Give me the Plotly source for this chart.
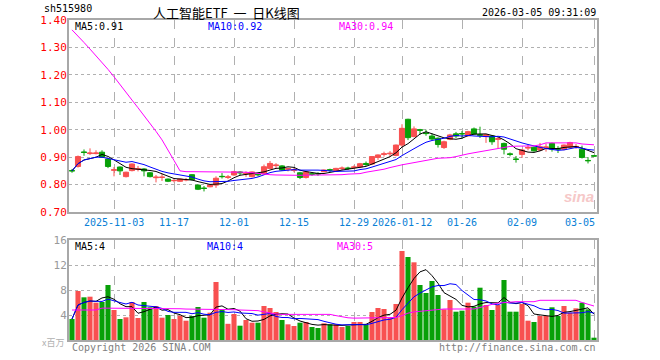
import pandas as pd
import plotly.graph_objects as go

# ---------------- data ----------------
holidays = ["2026-01-01", "2026-01-02", "2026-02-16", "2026-02-17", "2026-02-18",
            "2026-02-19", "2026-02-20", "2026-02-23"]
dates = [d.strftime("%Y-%m-%d") for d in pd.bdate_range("2025-10-23", "2026-03-05")
         if d.strftime("%Y-%m-%d") not in holidays]

opens = [0.851,0.866,0.919,0.913,0.913,0.918,0.893,0.852,0.864,0.829,
         0.851,0.856,0.857,0.843,0.825,0.826,0.820,0.814,0.812,0.817,
         0.836,0.798,0.787,0.792,0.798,0.830,0.826,0.835,0.846,0.839,
         0.829,0.838,0.839,0.859,0.869,0.868,0.856,0.852,0.843,0.826,
         0.839,0.840,0.847,0.854,0.851,0.858,0.860,0.862,0.864,0.877,
         0.875,0.899,0.910,0.912,0.906,0.944,1.038,0.975,1.000,0.988,
         0.977,0.969,0.935,0.965,0.985,0.986,0.978,1.003,0.982,0.975,
         0.977,0.965,0.950,0.912,0.893,0.910,0.933,0.936,0.926,0.935,
         0.950,0.931,0.929,0.936,0.937,0.929,0.888,0.905]
highs = [0.857,0.906,0.928,0.932,0.925,0.925,0.896,0.864,0.866,0.847,
         0.877,0.868,0.860,0.846,0.835,0.840,0.822,0.820,0.822,0.824,
         0.838,0.801,0.795,0.800,0.830,0.842,0.835,0.850,0.849,0.848,
         0.848,0.842,0.873,0.886,0.878,0.871,0.862,0.860,0.846,0.849,
         0.843,0.845,0.855,0.858,0.861,0.866,0.865,0.870,0.879,0.884,
         0.904,0.910,0.920,0.922,0.946,1.020,1.040,1.012,1.003,1.000,
         0.986,0.972,0.960,0.985,0.992,0.995,0.996,1.008,1.011,0.984,
         0.980,0.972,0.953,0.917,0.904,0.930,0.944,0.938,0.952,0.950,
         0.953,0.940,0.946,0.956,0.948,0.942,0.900,0.908]
lows = [0.843,0.862,0.905,0.908,0.910,0.898,0.860,0.830,0.835,0.826,
        0.848,0.848,0.830,0.826,0.808,0.813,0.809,0.808,0.810,0.812,
        0.815,0.780,0.775,0.790,0.788,0.822,0.820,0.832,0.834,0.828,
        0.826,0.830,0.836,0.857,0.860,0.850,0.848,0.845,0.820,0.822,
        0.832,0.832,0.845,0.846,0.849,0.852,0.853,0.857,0.860,0.868,
        0.873,0.890,0.902,0.902,0.903,0.936,0.962,0.972,0.982,0.978,
        0.962,0.935,0.930,0.962,0.970,0.967,0.975,0.982,0.970,0.952,
        0.945,0.932,0.910,0.903,0.880,0.897,0.925,0.920,0.922,0.920,
        0.920,0.915,0.925,0.933,0.930,0.895,0.877,0.902]
closes = [0.850,0.902,0.917,0.915,0.915,0.900,0.866,0.854,0.850,0.845,
          0.875,0.858,0.850,0.829,0.827,0.827,0.812,0.815,0.820,0.818,
          0.818,0.783,0.786,0.798,0.823,0.829,0.828,0.847,0.843,0.841,
          0.846,0.836,0.865,0.877,0.871,0.853,0.858,0.854,0.826,0.846,
          0.838,0.839,0.853,0.853,0.859,0.860,0.859,0.864,0.876,0.873,
          0.902,0.908,0.912,0.914,0.944,1.005,0.971,1.003,0.998,0.986,
          0.966,0.946,0.956,0.981,0.977,0.985,0.993,0.984,0.980,0.982,
          0.956,0.967,0.929,0.910,0.892,0.926,0.935,0.923,0.938,0.937,
          0.929,0.929,0.944,0.953,0.939,0.899,0.887,0.904]
price_ma30 = ([1.364,1.342,1.318,1.294,1.270,1.245,1.220,1.193,1.166,1.138,
               1.108,1.080,1.052,1.023,0.994,0.963,0.928,0.888,0.850]
              + [0.847]*10
              + [0.845,0.843,0.840,0.838,0.836,0.835]
              + [0.834]*9
              + [0.835,0.836,0.838,0.839,0.840]
              + [0.845,0.848,0.852,0.856,0.862,0.868,0.872,0.876,0.880,0.884,
                 0.889,0.893,0.896,0.897,0.898]
              + [0.902,0.908,0.912,0.916,0.920,0.924,0.928,0.932,0.937]
              + [0.939,0.940,0.940,0.941,0.941]
              + [0.945,0.952,0.952,0.952,0.952,0.952,0.952]
              + [0.948,0.946,0.945])
volumes = [3.36,7.84,6.83,6.93,5.97,6.08,8.8,4.8,3.36,3.63,
           6.08,3.52,6.08,5.23,5.44,3.57,4.0,3.36,3.89,3.09,
           3.84,5.28,3.57,4.37,9.28,4.8,2.59,4.16,2.29,3.2,
           2.77,2.77,5.44,5.12,4.48,3.2,2.51,2.24,2.77,2.88,
           2.08,1.92,2.67,2.51,2.51,2.08,2.24,2.88,2.88,2.45,
           4.48,5.12,4.96,3.52,5.76,14.24,13.28,12.43,8.8,7.52,
           9.44,7.2,4.91,6.4,4.53,4.69,5.97,5.33,8.37,5.6,
           4.8,5.6,9.6,4.53,4.53,5.76,3.09,2.88,3.84,3.84,
           5.23,3.84,5.44,4.37,5.07,5.97,4.91,0.37]
vol_ma30 = ([4.8]*5 + [5.1]*12 + [5.0,5.0,4.95]
            + [4.95,4.9,4.9,4.9,4.9,4.85,4.85,4.85,4.8,4.8,4.8]
            + [4.7,4.5,4.3,4.15] + [4.1]*9
            + [3.9,3.7,3.55,3.5,3.5,3.5,3.5,3.5,3.5]
            + [3.5,3.6,3.9,4.3,4.5,4.6,4.7,4.85]
            + [4.96]*7 + [5.2,5.5,5.7,5.9,6.0] + [6.13]*5 + [6.35]*7
            + [6.0,5.7,5.44])

tick_dates = ["2025-11-03","2025-11-17","2025-12-01","2025-12-15","2025-12-29",
              "2026-01-12","2026-01-26","2026-02-09","2026-03-05"]
tick_text = ["2025-11-03","11-17","12-01","12-15","12-29","2026-01-12","01-26","02-09","03-05"]
price_ticks = [0.70,0.80,0.90,1.00,1.10,1.20,1.30,1.40]
vol_ticks = [4,8,12,16]

# ---------------- derived ----------------
cs = pd.Series(closes)
ma5 = cs.rolling(5, min_periods=1).mean()
ma10 = cs.rolling(10, min_periods=1).mean()
vs = pd.Series(volumes)
vma5 = vs.rolling(5, min_periods=1).mean()
vma10 = vs.rolling(10, min_periods=1).mean()

RED = "#f85050"
GREEN = "#08a008"
vol_colors = [RED if c >= o else GREEN for o, c in zip(opens, closes)]

# layout geometry (pixels)
L, R, T, B = 69, 597, 20, 340
W, H = 660, 360
def px(x):
    return (x - L) / (R - L)
def py(y):
    return (B - y) / (B - T)

fig = go.Figure()
fig.add_trace(go.Candlestick(
    x=dates, open=opens, high=highs, low=lows, close=closes,
    increasing=dict(line=dict(color=RED, width=1), fillcolor=RED),
    decreasing=dict(line=dict(color=GREEN, width=1), fillcolor=GREEN),
    xaxis="x", yaxis="y", hoverinfo="skip"))
fig.add_trace(go.Scatter(x=dates, y=ma5, mode="lines", line=dict(color="black", width=1), xaxis="x", yaxis="y"))
fig.add_trace(go.Scatter(x=dates, y=ma10, mode="lines", line=dict(color="#0000ff", width=1), xaxis="x", yaxis="y"))
fig.add_trace(go.Scatter(x=dates, y=price_ma30, mode="lines", line=dict(color="#ff00ff", width=1), xaxis="x", yaxis="y"))

fig.add_trace(go.Bar(x=dates, y=volumes, marker=dict(color=vol_colors, line=dict(width=0)), xaxis="x2", yaxis="y2"))
fig.add_trace(go.Scatter(x=dates, y=vma5, mode="lines", line=dict(color="black", width=1), xaxis="x2", yaxis="y2"))
fig.add_trace(go.Scatter(x=dates, y=vma10, mode="lines", line=dict(color="#0000ff", width=1), xaxis="x2", yaxis="y2"))
fig.add_trace(go.Scatter(x=dates, y=vol_ma30, mode="lines", line=dict(color="#ff00ff", width=1), xaxis="x2", yaxis="y2"))

MONO = "DejaVu Sans Mono"
GRID = "#b0b0b0"
FRAME = "#a8a8a8"
xcommon = dict(type="category", range=[-0.5, len(dates) - 0.5], tickmode="array",
               tickvals=tick_dates, showticklabels=False, showgrid=True, gridcolor=GRID,
               griddash="dash", gridwidth=1, showline=True, linecolor=FRAME, linewidth=2,
               mirror=True, ticks="", zeroline=False, fixedrange=True)

fig.update_layout(
    width=W, height=H, margin=dict(l=L, r=W - R, t=T, b=H - B),
    paper_bgcolor="white", plot_bgcolor="white", showlegend=False,
    bargap=0.15, boxgap=0.15, boxgroupgap=0,
    xaxis=dict(**xcommon, domain=[0, 1], anchor="y", rangeslider=dict(visible=False)),
    yaxis=dict(domain=[py(212), 1], range=[0.70, 1.40], tickmode="array", tickvals=price_ticks,
               tickformat=".2f", tickfont=dict(family=MONO, size=11, color="#ff0000"),
               ticklabelstandoff=-2,
               showgrid=True, gridcolor=GRID, griddash="dot", showline=True, linecolor=FRAME,
               linewidth=2, mirror=True, ticks="", zeroline=False),
    xaxis2=dict(**xcommon, domain=[0, 1], anchor="y2"),
    yaxis2=dict(domain=[0, py(240)], range=[0, 16], tickmode="array", tickvals=vol_ticks,
                tickfont=dict(family=MONO, size=11, color="#999999"),
                ticklabelstandoff=-2,
                showgrid=True, gridcolor=GRID, griddash="dot", showline=True, linecolor=FRAME,
                linewidth=2, mirror=True, ticks="", zeroline=False),
)

ann = []
def text(x, y, s, color="black", size=10, family=MONO, anchor="left", **kw):
    ann.append(dict(x=px(x), y=py(y), xref="paper", yref="paper", text=s, showarrow=False,
                    xanchor=anchor, yanchor="middle", font=dict(family=family, size=size, color=color), **kw))

text(42, 8.5, "sh515980", size=10)
text(151, 12, "人工智能ETF&nbsp;&nbsp;一&nbsp;&nbsp;日K线图", size=13, family="Noto Sans CJK SC")
text(598, 12, "2026-03-05 09:31:09", anchor="right")
text(73, 27, "MA5:%.2f" % 0.91)
text(206, 27, "MA10:%.2f" % 0.92, color="#0000ff")
text(337, 27, "MA30:%.2f" % 0.94, color="#ff00ff")
text(73, 246, "MA5:4")
text(205, 246, "MA10:4", color="#0000ff")
text(335, 246, "MA30:5", color="#ff00ff")
text(70, 347, "Copyright 2026 SINA.COM", color="#808080")
text(598, 347, "http://finance.sina.com.cn", color="#808080", anchor="right")
text(66, 342, "x百万", color="#b0b0b0", size=9, family="Noto Sans CJK SC", anchor="right")
text(596, 196, "<i><b>sina</b></i>", color="#f6c8c8", size=15, family="Arial", anchor="right")

for i, (d, t) in enumerate(zip(tick_dates, tick_text)):
    last = i == len(tick_dates) - 1
    ann.append(dict(x=d, y=py(222), xref="x", yref="paper", text=t, showarrow=False,
                    xanchor="right" if last else "center", xshift=3 if last else 0,
                    yanchor="middle", font=dict(family=MONO, size=10, color="#0a7fd6")))

fig.update_layout(annotations=ann)
fig.write_html("out.html", config={"displayModeBar": False, "staticPlot": True},
               post_script="document.body.style.margin='0px';document.body.style.overflow='hidden';")
